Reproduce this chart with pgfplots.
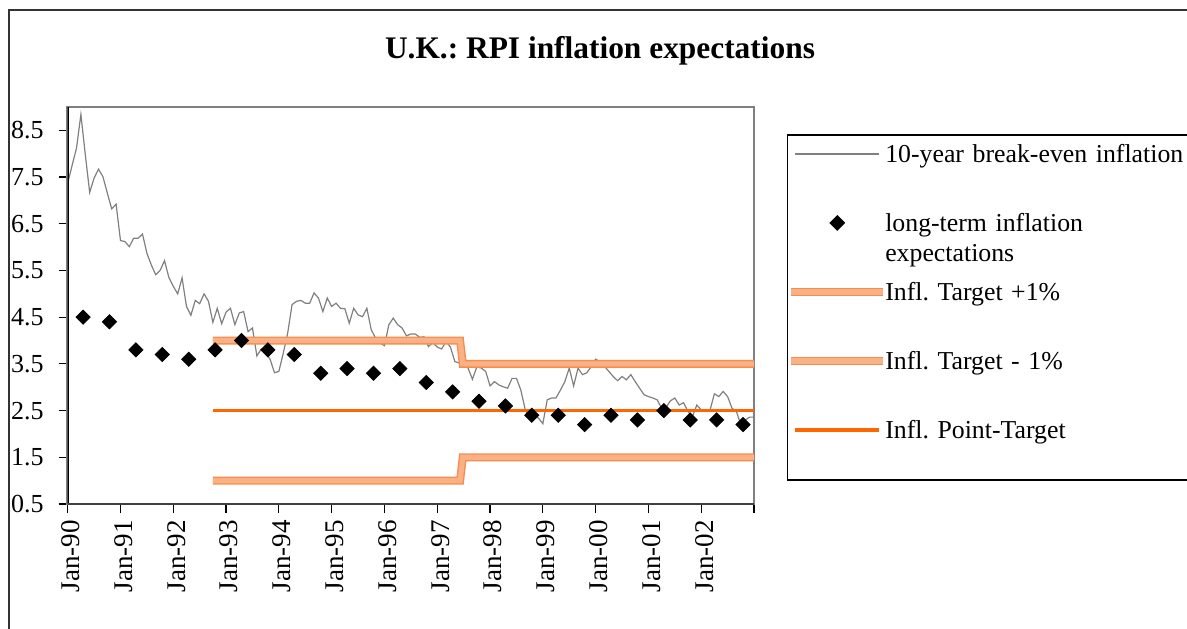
\documentclass[border=0pt]{standalone}
\usepackage{pgfplots}
\pgfplotsset{compat=1.18}
\usepackage{fontspec}
\setmainfont{Liberation Serif}
\definecolor{bandor}{RGB}{250,178,132}
\definecolor{banddk}{RGB}{248,140,80}
\definecolor{ptor}{RGB}{255,102,0}
\definecolor{linegray}{RGB}{128,128,128}

\pgfplotstableread{
m v
0 7.37
1 7.75
2 8.12
3 8.84
4 7.98
5 7.17
6 7.48
7 7.67
8 7.51
9 7.16
10 6.82
11 6.92
12 6.14
13 6.12
14 6.01
15 6.19
16 6.19
17 6.28
18 5.87
19 5.62
20 5.41
21 5.50
22 5.71
23 5.35
24 5.16
25 5.00
26 5.34
27 4.73
28 4.54
29 4.86
30 4.79
31 5.00
32 4.84
33 4.39
34 4.69
35 4.36
36 4.61
37 4.69
38 4.34
39 4.59
40 4.62
41 4.19
42 4.27
43 3.67
44 3.82
45 3.74
46 3.60
47 3.31
48 3.34
49 3.73
50 4.16
51 4.77
52 4.84
53 4.86
54 4.80
55 4.80
56 5.02
57 4.91
58 4.62
59 4.91
60 4.73
61 4.80
62 4.69
63 4.68
64 4.37
65 4.69
66 4.55
67 4.51
68 4.69
69 4.23
70 4.05
71 3.95
72 3.89
73 4.34
74 4.48
75 4.34
76 4.27
77 4.10
78 4.14
79 4.14
80 4.07
81 4.08
82 3.87
83 3.96
84 3.86
85 3.82
86 3.98
87 3.86
88 3.55
89 3.52
90 3.55
91 3.41
92 3.17
93 3.44
94 3.41
95 3.34
96 3.03
97 3.12
98 3.05
99 3.01
100 2.98
101 3.19
102 3.19
103 2.94
104 2.52
105 2.34
106 2.41
107 2.34
108 2.22
109 2.73
110 2.77
111 2.77
112 2.94
113 3.12
114 3.41
115 3.03
116 3.41
117 3.27
118 3.31
119 3.44
120 3.60
121 3.55
122 3.45
123 3.34
124 3.23
125 3.14
126 3.23
127 3.16
128 3.27
129 3.12
130 2.98
131 2.84
132 2.80
133 2.77
134 2.73
135 2.55
136 2.57
137 2.71
138 2.77
139 2.62
140 2.67
141 2.48
142 2.37
143 2.62
144 2.51
145 2.51
146 2.51
147 2.86
148 2.80
149 2.91
150 2.80
151 2.55
152 2.48
153 2.20
154 2.30
155 2.36
156 2.36
}\breakeven

\pgfplotstableread{
m v
3.5 4.5
9.5 4.4
15.5 3.8
21.5 3.7
27.5 3.6
33.5 3.8
39.5 4.0
45.5 3.8
51.5 3.7
57.5 3.3
63.5 3.4
69.5 3.3
75.5 3.4
81.5 3.1
87.5 2.9
93.5 2.7
99.5 2.6
105.5 2.4
111.5 2.4
117.5 2.2
123.5 2.4
129.5 2.3
135.5 2.5
141.5 2.3
147.5 2.3
153.5 2.2
}\longterm

\begin{document}
\frenchspacing
\begin{tikzpicture}
\path[use as bounding box] (0pt,0pt) rectangle (593.5pt,314pt);
\draw[line width=1pt, black!80] (4.3pt,-2pt) -- (4.3pt,309pt) -- (600pt,309pt);
\node[font=\fontsize{15.7}{18}\selectfont\bfseries, anchor=base] at (300pt,284.5pt) {U.K.: RPI inflation expectations};
\begin{axis}[
  at={(33.85pt,62pt)}, anchor=south west,
  scale only axis, width=343.15pt, height=198.5pt,
  xmin=0, xmax=156, ymin=0.5, ymax=9,
  xtick={0,12,...,156},
  xticklabels={Jan-90,Jan-91,Jan-92,Jan-93,Jan-94,Jan-95,Jan-96,Jan-97,Jan-98,Jan-99,Jan-00,Jan-01,Jan-02,},
  ytick={0.5,1.5,2.5,3.5,4.5,5.5,6.5,7.5,8.5},
  yticklabels={0.5,1.5,2.5,3.5,4.5,5.5,6.5,7.5,8.5},
  tick align=outside, tick pos=left,
  major tick length=4.5pt,
  tick style={black, line width=0.6pt},
  axis line style={linegray, line width=1.3pt},
  yticklabel style={font=\fontsize{13}{15}\selectfont, xshift=-4pt},
  xticklabel style={font=\fontsize{13.5}{15}\selectfont, rotate=90, anchor=east, yshift=-1.5pt},
  legend style={at={(1.0476,0.9312)}, anchor=north west, draw=black, line width=0.6pt,
    inner xsep=0pt, inner ysep=0pt, column sep=-1pt, row sep=0pt,
    font=\fontsize{12.9}{15}\selectfont\frenchspacing,
    nodes={inner sep=0pt, text height=14pt, text depth=20.5pt, text width=160pt, align=left}},
  legend cell align=left,
]
\addplot[linegray, line width=0.6pt, mark=none,
  legend image code/.code={\draw[linegray, line width=0.6pt] (0pt,7.75pt) -- (42pt,7.75pt);}]
  table[x=m,y=v] {\breakeven};
\addlegendentry{10-year break-even inflation}
\addplot[only marks, mark=square*, mark size=2.5pt, mark options={rotate=45, fill=black, draw=black},
  legend image code/.code={\draw[only marks, mark=square*, mark size=2.5pt, mark options={rotate=45, fill=black, draw=black}] plot coordinates {(21pt,7.75pt)};}]
  table[x=m,y=v] {\longterm};
\addlegendentry{long-term inflation\\expectations}
\addplot[banddk, line width=4pt, mark=none,
  legend image code/.code={\draw[banddk, line width=4pt] (-2pt,7.75pt) -- (44pt,7.75pt);\draw[bandor, line width=2.6pt] (-2pt,7.75pt) -- (44pt,7.75pt);}]
  coordinates {(33,4.0) (89.2,4.0) (89.8,3.5) (157,3.5)};
\addlegendentry{Infl. Target +1\%}
\addplot[banddk, line width=4pt, mark=none,
  legend image code/.code={\draw[banddk, line width=4pt] (-2pt,7.75pt) -- (44pt,7.75pt);\draw[bandor, line width=2.6pt] (-2pt,7.75pt) -- (44pt,7.75pt);}]
  coordinates {(33,1.0) (89.2,1.0) (89.8,1.5) (157,1.5)};
\addlegendentry{Infl. Target - 1\%}
\addplot[ptor, line width=1.6pt, mark=none,
  legend image code/.code={\draw[ptor, line width=1.6pt] (0pt,7.75pt) -- (42pt,7.75pt);}]
  coordinates {(33,2.5) (156,2.5)};
\addlegendentry{Infl. Point-Target}
\addplot[bandor, line width=2.6pt, mark=none, forget plot]
  coordinates {(33,4.0) (89.2,4.0) (89.8,3.5) (157,3.5)};
\addplot[bandor, line width=2.6pt, mark=none, forget plot]
  coordinates {(33,1.0) (89.2,1.0) (89.8,1.5) (157,1.5)};
\draw[black, line width=1pt] (rel axis cs:0,1) -- (rel axis cs:0,0);
\draw[black!75, line width=1pt] (rel axis cs:0,0) -- (rel axis cs:1,0);
\end{axis}
\end{tikzpicture}
\end{document}
